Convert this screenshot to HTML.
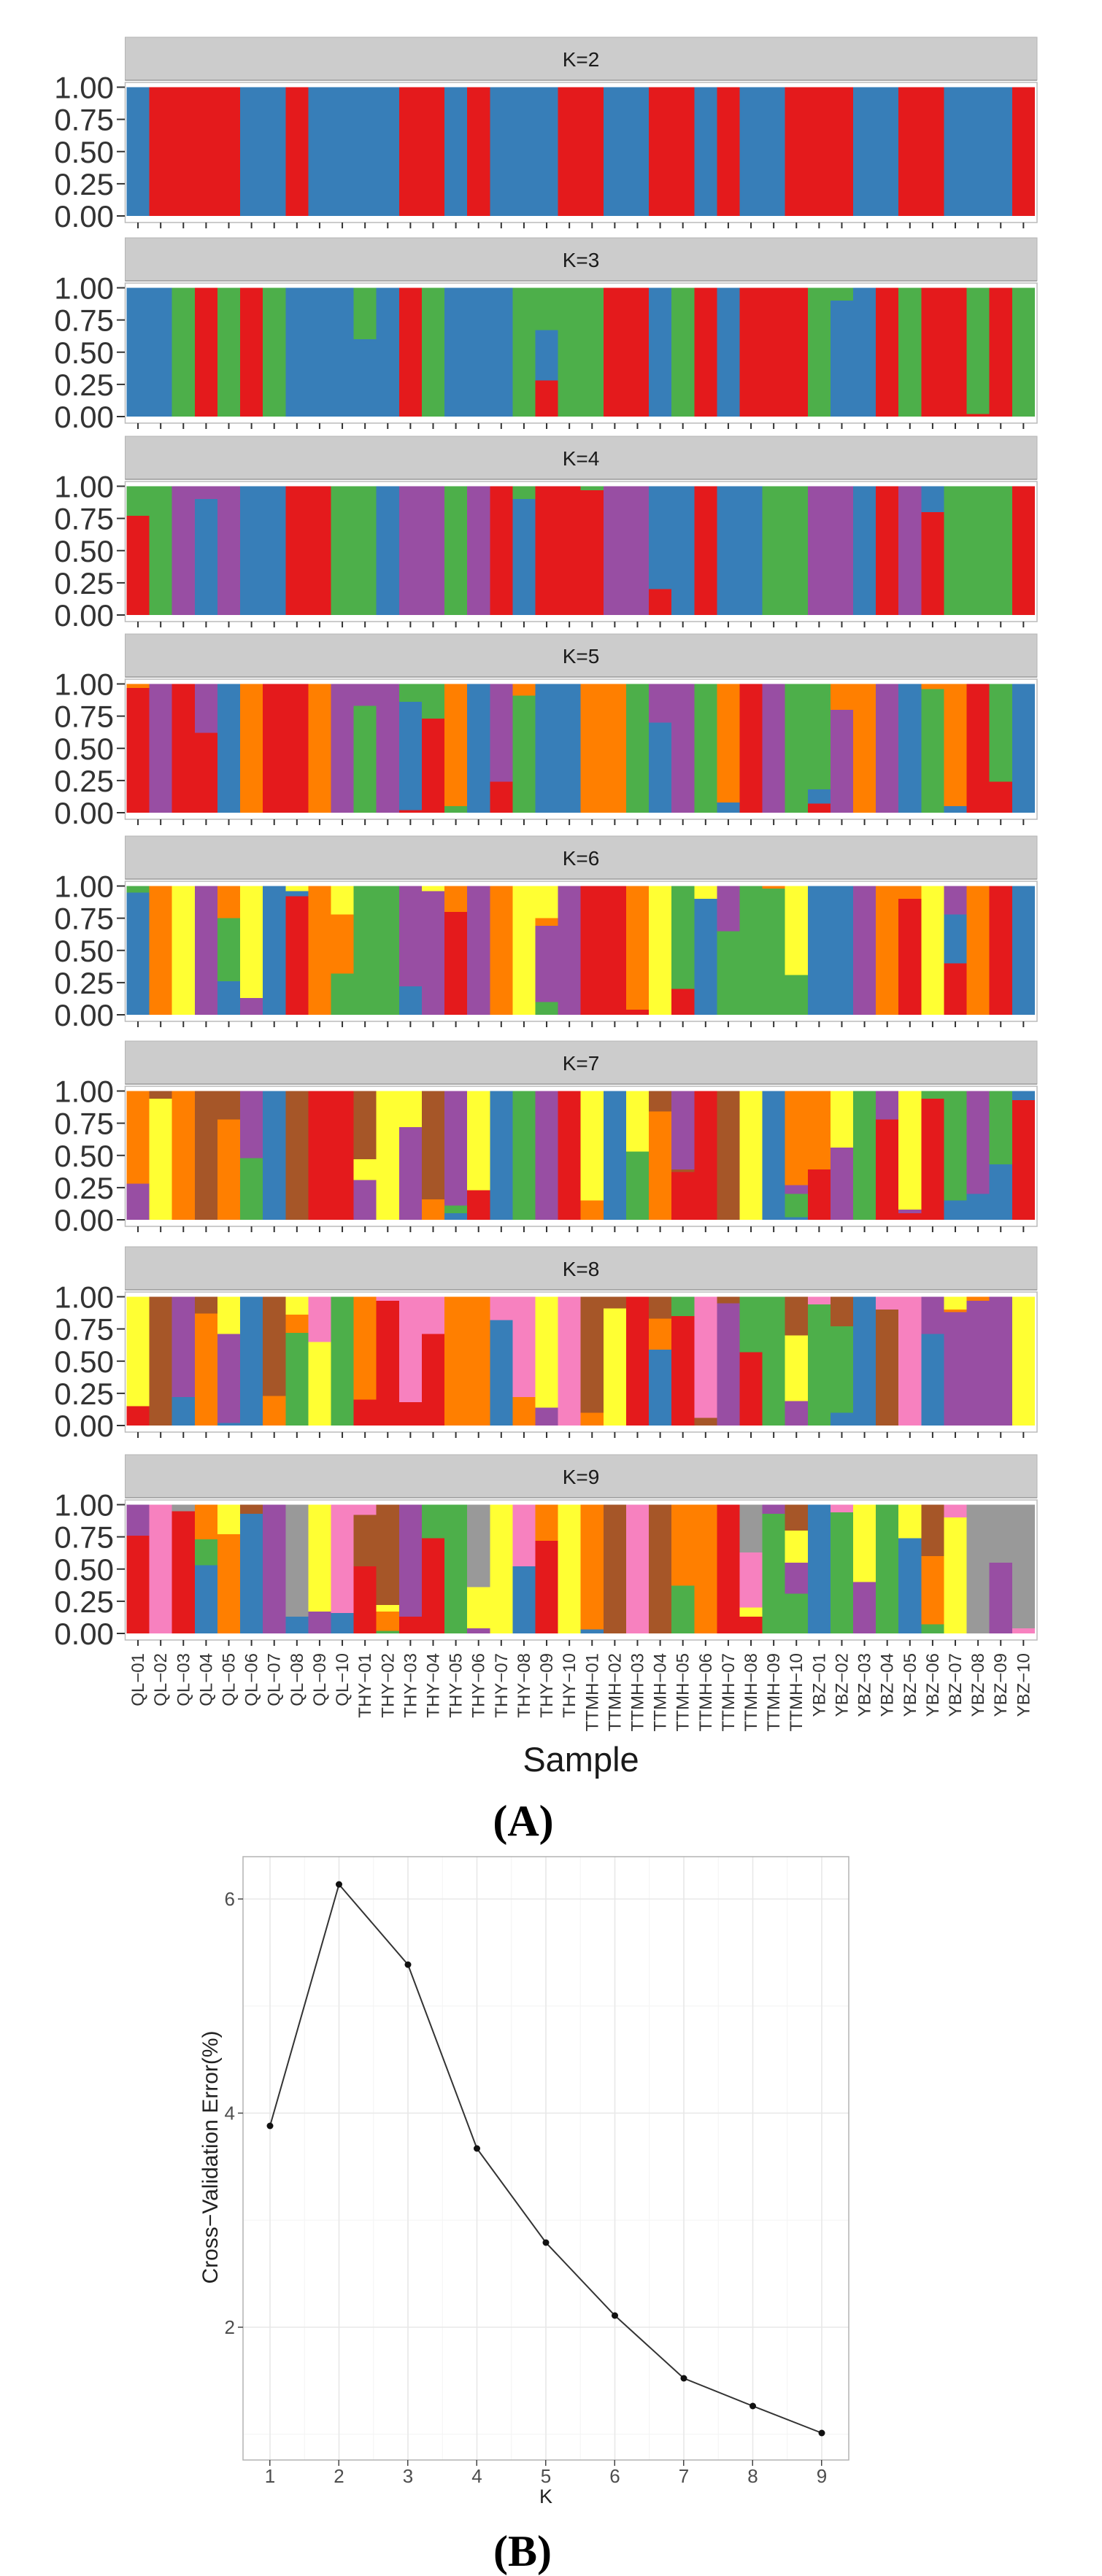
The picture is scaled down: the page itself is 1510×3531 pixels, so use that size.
<!DOCTYPE html>
<html><head><meta charset="utf-8"><style>
body{margin:0;background:#fff}
svg{display:block}
.r{fill:#E41A1C}.b{fill:#377EB8}.g{fill:#4DAF4A}.p{fill:#984EA3}.o{fill:#FF7F00}.y{fill:#FFFF33}.n{fill:#A65628}.k{fill:#F781BF}.a{fill:#999999}
.bars rect{shape-rendering:crispEdges}
.yl{font:42px "Liberation Sans",sans-serif;fill:#333;text-anchor:end}
.st{font:28px "Liberation Sans",sans-serif;fill:#1a1a1a;text-anchor:middle}
.xl{font:24px "Liberation Sans",sans-serif;fill:#333;text-anchor:end}
</style></head><body>
<svg width="1510" height="3531" viewBox="0 0 1510 3531" xmlns="http://www.w3.org/2000/svg">
<defs>
<g id="frame">
<rect x="171.5" y="0" width="1249.5" height="59" fill="#CCCCCC" stroke="#B5B5B5" stroke-width="1"/>
<line x1="171.5" y1="59" x2="1421" y2="59" stroke="#999" stroke-width="1.5"/>
<rect x="171.5" y="62" width="1249.5" height="192" fill="#fff" stroke="#BBBBBB" stroke-width="1.5"/>
<line x1="188.06" y1="258" x2="1420" y2="258" stroke="#333" stroke-width="8" stroke-dasharray="2 29.11"/>
</g>
<g id="yax">
<g stroke="#333" stroke-width="2"><line x1="160" x2="171" y1="0" y2="0"/><line x1="160" x2="171" y1="-44.1" y2="-44.1"/><line x1="160" x2="171" y1="-88.25" y2="-88.25"/><line x1="160" x2="171" y1="-132.4" y2="-132.4"/><line x1="160" x2="171" y1="-176.5" y2="-176.5"/></g>
<text class="yl" x="156" y="15">0.00</text><text class="yl" x="156" y="-29.1">0.25</text><text class="yl" x="156" y="-73.25">0.50</text><text class="yl" x="156" y="-117.4">0.75</text><text class="yl" x="156" y="-161.5">1.00</text>
</g>
</defs>

<!-- K=2 -->
<g transform="translate(0,51)"><use href="#frame"/><text class="st" x="796" y="40">K=2</text></g>
<g transform="translate(0,296)"><use href="#yax"/></g>
<g class="bars" transform="translate(173.5,296) scale(31.11,-176.5)">
<rect class="b" x="0" width="40" height="1"/>
<rect class="r" x="1" width="4" height="1"/><rect class="r" x="7" width="1" height="1"/><rect class="r" x="12" width="2" height="1"/><rect class="r" x="15" width="1" height="1"/><rect class="r" x="19" width="2" height="1"/><rect class="r" x="23" width="2" height="1"/><rect class="r" x="26" width="1" height="1"/><rect class="r" x="29" width="3" height="1"/><rect class="r" x="34" width="2" height="1"/><rect class="r" x="39" width="1" height="1"/>
</g>

<!-- K=3 -->
<g transform="translate(0,326)"><use href="#frame"/><text class="st" x="796" y="40">K=3</text></g>
<g transform="translate(0,571)"><use href="#yax"/></g>
<g class="bars" transform="translate(173.5,571) scale(31.11,-176.5)">
<rect class="g" x="0" width="40" height="1"/>
<rect class="b" x="0" width="2" height="1"/><rect class="r" x="3" width="1" height="1"/><rect class="r" x="5" width="1" height="1"/><rect class="b" x="7" width="3" height="1"/><rect class="b" x="10" width="1" height=".6"/><rect class="b" x="11" width="1" height="1"/><rect class="r" x="12" width="1" height="1"/><rect class="b" x="14" width="3" height="1"/><rect class="b" x="18" width="1" height=".67"/><rect class="r" x="18" width="1" height=".28"/><rect class="r" x="21" width="2" height="1"/><rect class="b" x="23" width="1" height="1"/><rect class="r" x="25" width="1" height="1"/><rect class="b" x="26" width="1" height="1"/><rect class="r" x="27" width="3" height="1"/><rect class="b" x="31" width="1" height=".9"/><rect class="b" x="32" width="1" height="1"/><rect class="r" x="33" width="1" height="1"/><rect class="r" x="35" width="2" height="1"/><rect class="r" x="37" width="1" height=".02"/><rect class="r" x="38" width="1" height="1"/>
</g>

<!-- K=4 -->
<g transform="translate(0,598)"><use href="#frame"/><text class="st" x="796" y="40">K=4</text></g>
<g transform="translate(0,843)"><use href="#yax"/></g>
<g class="bars" transform="translate(173.5,843) scale(31.11,-176.5)">
<rect class="g" x="0" width="40" height="1"/>
<rect class="r" x="0" width="1" height=".77"/><rect class="p" x="2" width="3" height="1"/><rect class="b" x="3" width="1" height=".9"/><rect class="b" x="5" width="2" height="1"/><rect class="r" x="7" width="2" height="1"/><rect class="b" x="11" width="1" height="1"/><rect class="p" x="12" width="2" height="1"/><rect class="p" x="15" width="1" height="1"/><rect class="r" x="16" width="1" height="1"/><rect class="b" x="17" width="1" height=".9"/><rect class="r" x="18" width="2" height="1"/><rect class="r" x="20" width="1" height=".97"/><rect class="p" x="21" width="2" height="1"/><rect class="b" x="23" width="1" height="1"/><rect class="r" x="23" width="1" height=".2"/><rect class="b" x="24" width="1" height="1"/><rect class="r" x="25" width="1" height="1"/><rect class="b" x="26" width="2" height="1"/><rect class="p" x="30" width="2" height="1"/><rect class="b" x="32" width="1" height="1"/><rect class="r" x="33" width="1" height="1"/><rect class="p" x="34" width="1" height="1"/><rect class="b" x="35" width="1" height="1"/><rect class="r" x="35" width="1" height=".8"/><rect class="r" x="39" width="1" height="1"/>
</g>

<!-- K=5 -->
<g transform="translate(0,869)"><use href="#frame"/><text class="st" x="796" y="40">K=5</text></g>
<g transform="translate(0,1114)"><use href="#yax"/></g>
<g class="bars" transform="translate(173.5,1114) scale(31.11,-176.5)">
<rect class="o" x="0" width="1.02" height="1"/><rect class="r" x="0" width="1.02" height=".97"/>
<rect class="p" x="1" width="1.02" height="1"/>
<rect class="r" x="2" width="1.02" height="1"/>
<rect class="p" x="3" width="1.02" height="1"/><rect class="r" x="3" width="1.02" height=".62"/>
<rect class="b" x="4" width="1.02" height="1"/>
<rect class="o" x="5" width="1.02" height="1"/>
<rect class="r" x="6" width="2.02" height="1"/>
<rect class="o" x="8" width="1.02" height="1"/>
<rect class="p" x="9" width="1.02" height="1"/>
<rect class="p" x="10" width="1.02" height="1"/><rect class="g" x="10" width="1.02" height=".83"/>
<rect class="p" x="11" width="1.02" height="1"/>
<rect class="g" x="12" width="1.02" height="1"/><rect class="b" x="12" width="1.02" height=".86"/><rect class="r" x="12" width="1.02" height=".02"/>
<rect class="g" x="13" width="1.02" height="1"/><rect class="r" x="13" width="1.02" height=".73"/>
<rect class="o" x="14" width="1.02" height="1"/><rect class="g" x="14" width="1.02" height=".05"/>
<rect class="b" x="15" width="1.02" height="1"/>
<rect class="p" x="16" width="1.02" height="1"/><rect class="r" x="16" width="1.02" height=".24"/>
<rect class="o" x="17" width="1.02" height="1"/><rect class="g" x="17" width="1.02" height=".91"/>
<rect class="b" x="18" width="2.02" height="1"/>
<rect class="o" x="20" width="2.02" height="1"/>
<rect class="g" x="22" width="1.02" height="1"/>
<rect class="p" x="23" width="1.02" height="1"/><rect class="b" x="23" width="1.02" height=".7"/>
<rect class="p" x="24" width="1.02" height="1"/>
<rect class="g" x="25" width="1.02" height="1"/>
<rect class="o" x="26" width="1.02" height="1"/><rect class="b" x="26" width="1.02" height=".08"/>
<rect class="r" x="27" width="1.02" height="1"/>
<rect class="p" x="28" width="1.02" height="1"/>
<rect class="g" x="29" width="1.02" height="1"/>
<rect class="g" x="30" width="1.02" height="1"/><rect class="b" x="30" width="1.02" height=".18"/><rect class="r" x="30" width="1.02" height=".07"/>
<rect class="o" x="31" width="1.02" height="1"/><rect class="p" x="31" width="1.02" height=".8"/>
<rect class="o" x="32" width="1.02" height="1"/>
<rect class="p" x="33" width="1.02" height="1"/>
<rect class="b" x="34" width="1.02" height="1"/>
<rect class="o" x="35" width="1.02" height="1"/><rect class="g" x="35" width="1.02" height=".96"/>
<rect class="o" x="36" width="1.02" height="1"/><rect class="b" x="36" width="1.02" height=".05"/>
<rect class="r" x="37" width="1.02" height="1"/>
<rect class="g" x="38" width="1.02" height="1"/><rect class="r" x="38" width="1.02" height=".24"/>
<rect class="b" x="39" width="1" height="1"/>
</g>

<!-- K=6 -->
<g transform="translate(0,1146)"><use href="#frame"/><text class="st" x="796" y="40">K=6</text></g>
<g transform="translate(0,1391)"><use href="#yax"/></g>
<g class="bars" transform="translate(173.5,1391) scale(31.11,-176.5)">
<rect class="g" x="0" width="1.02" height="1"/><rect class="b" x="0" width="1.02" height=".95"/>
<rect class="o" x="1" width="1.02" height="1"/>
<rect class="y" x="2" width="1.02" height="1"/>
<rect class="p" x="3" width="1.02" height="1"/>
<rect class="o" x="4" width="1.02" height="1"/><rect class="g" x="4" width="1.02" height=".75"/><rect class="b" x="4" width="1.02" height=".26"/>
<rect class="y" x="5" width="1.02" height="1"/><rect class="p" x="5" width="1.02" height=".13"/>
<rect class="b" x="6" width="1.02" height="1"/>
<rect class="y" x="7" width="1.02" height="1"/><rect class="b" x="7" width="1.02" height=".96"/><rect class="r" x="7" width="1.02" height=".92"/>
<rect class="o" x="8" width="1.02" height="1"/>
<rect class="y" x="9" width="1.02" height="1"/><rect class="o" x="9" width="1.02" height=".78"/><rect class="g" x="9" width="1.02" height=".32"/>
<rect class="g" x="10" width="2.02" height="1"/>
<rect class="p" x="12" width="1.02" height="1"/><rect class="b" x="12" width="1.02" height=".22"/>
<rect class="y" x="13" width="1.02" height="1"/><rect class="p" x="13" width="1.02" height=".96"/>
<rect class="o" x="14" width="1.02" height="1"/><rect class="r" x="14" width="1.02" height=".8"/>
<rect class="p" x="15" width="1.02" height="1"/>
<rect class="o" x="16" width="1.02" height="1"/>
<rect class="y" x="17" width="1.02" height="1"/>
<rect class="y" x="18" width="1.02" height="1"/><rect class="o" x="18" width="1.02" height=".75"/><rect class="p" x="18" width="1.02" height=".69"/><rect class="g" x="18" width="1.02" height=".1"/>
<rect class="p" x="19" width="1.02" height="1"/>
<rect class="r" x="20" width="2.02" height="1"/>
<rect class="o" x="22" width="1.02" height="1"/><rect class="r" x="22" width="1.02" height=".04"/>
<rect class="y" x="23" width="1.02" height="1"/>
<rect class="g" x="24" width="1.02" height="1"/><rect class="r" x="24" width="1.02" height=".2"/>
<rect class="y" x="25" width="1.02" height="1"/><rect class="b" x="25" width="1.02" height=".9"/>
<rect class="p" x="26" width="1.02" height="1"/><rect class="g" x="26" width="1.02" height=".65"/>
<rect class="g" x="27" width="1.02" height="1"/>
<rect class="o" x="28" width="1.02" height="1"/><rect class="g" x="28" width="1.02" height=".98"/>
<rect class="y" x="29" width="1.02" height="1"/><rect class="g" x="29" width="1.02" height=".31"/>
<rect class="b" x="30" width="2.02" height="1"/>
<rect class="p" x="32" width="1.02" height="1"/>
<rect class="o" x="33" width="1.02" height="1"/>
<rect class="o" x="34" width="1.02" height="1"/><rect class="r" x="34" width="1.02" height=".9"/>
<rect class="y" x="35" width="1.02" height="1"/>
<rect class="p" x="36" width="1.02" height="1"/><rect class="b" x="36" width="1.02" height=".78"/><rect class="r" x="36" width="1.02" height=".4"/>
<rect class="o" x="37" width="1.02" height="1"/>
<rect class="r" x="38" width="1.02" height="1"/>
<rect class="b" x="39" width="1" height="1"/>
</g>

<!-- K=7 -->
<g transform="translate(0,1427)"><use href="#frame"/><text class="st" x="796" y="40">K=7</text></g>
<g transform="translate(0,1672)"><use href="#yax"/></g>
<g class="bars" transform="translate(173.5,1672) scale(31.11,-176.5)">
<rect class="o" x="0" width="1.02" height="1"/><rect class="p" x="0" width="1.02" height=".28"/>
<rect class="n" x="1" width="1.02" height="1"/><rect class="y" x="1" width="1.02" height=".94"/>
<rect class="o" x="2" width="1.02" height="1"/>
<rect class="n" x="3" width="1.02" height="1"/>
<rect class="n" x="4" width="1.02" height="1"/><rect class="o" x="4" width="1.02" height=".78"/>
<rect class="p" x="5" width="1.02" height="1"/><rect class="g" x="5" width="1.02" height=".48"/>
<rect class="b" x="6" width="1.02" height="1"/>
<rect class="n" x="7" width="1.02" height="1"/>
<rect class="r" x="8" width="2.02" height="1"/>
<rect class="n" x="10" width="1.02" height="1"/><rect class="y" x="10" width="1.02" height=".47"/><rect class="p" x="10" width="1.02" height=".31"/>
<rect class="y" x="11" width="1.02" height="1"/>
<rect class="y" x="12" width="1.02" height="1"/><rect class="p" x="12" width="1.02" height=".72"/>
<rect class="n" x="13" width="1.02" height="1"/><rect class="o" x="13" width="1.02" height=".16"/>
<rect class="p" x="14" width="1.02" height="1"/><rect class="g" x="14" width="1.02" height=".11"/><rect class="b" x="14" width="1.02" height=".05"/>
<rect class="y" x="15" width="1.02" height="1"/><rect class="r" x="15" width="1.02" height=".23"/>
<rect class="b" x="16" width="1.02" height="1"/>
<rect class="g" x="17" width="1.02" height="1"/>
<rect class="p" x="18" width="1.02" height="1"/>
<rect class="r" x="19" width="1.02" height="1"/>
<rect class="y" x="20" width="1.02" height="1"/><rect class="o" x="20" width="1.02" height=".15"/>
<rect class="b" x="21" width="1.02" height="1"/>
<rect class="y" x="22" width="1.02" height="1"/><rect class="g" x="22" width="1.02" height=".53"/>
<rect class="n" x="23" width="1.02" height="1"/><rect class="o" x="23" width="1.02" height=".84"/>
<rect class="p" x="24" width="1.02" height="1"/><rect class="n" x="24" width="1.02" height=".39"/><rect class="r" x="24" width="1.02" height=".37"/>
<rect class="r" x="25" width="1.02" height="1"/>
<rect class="n" x="26" width="1.02" height="1"/>
<rect class="y" x="27" width="1.02" height="1"/>
<rect class="b" x="28" width="1.02" height="1"/>
<rect class="o" x="29" width="1.02" height="1"/><rect class="p" x="29" width="1.02" height=".27"/><rect class="g" x="29" width="1.02" height=".2"/><rect class="b" x="29" width="1.02" height=".02"/>
<rect class="o" x="30" width="1.02" height="1"/><rect class="r" x="30" width="1.02" height=".39"/>
<rect class="y" x="31" width="1.02" height="1"/><rect class="p" x="31" width="1.02" height=".56"/>
<rect class="g" x="32" width="1.02" height="1"/>
<rect class="p" x="33" width="1.02" height="1"/><rect class="r" x="33" width="1.02" height=".78"/>
<rect class="y" x="34" width="1.02" height="1"/><rect class="p" x="34" width="1.02" height=".08"/><rect class="r" x="34" width="1.02" height=".05"/>
<rect class="g" x="35" width="1.02" height="1"/><rect class="r" x="35" width="1.02" height=".94"/>
<rect class="g" x="36" width="1.02" height="1"/><rect class="b" x="36" width="1.02" height=".15"/>
<rect class="p" x="37" width="1.02" height="1"/><rect class="b" x="37" width="1.02" height=".2"/>
<rect class="g" x="38" width="1.02" height="1"/><rect class="b" x="38" width="1.02" height=".43"/>
<rect class="b" x="39" width="1" height="1"/><rect class="r" x="39" width="1" height=".93"/>
</g>

<!-- K=8 -->
<g transform="translate(0,1709)"><use href="#frame"/><text class="st" x="796" y="40">K=8</text></g>
<g transform="translate(0,1954)"><use href="#yax"/></g>
<g class="bars" transform="translate(173.5,1954) scale(31.11,-176.5)">
<rect class="y" x="0" width="1.02" height="1"/><rect class="r" x="0" width="1.02" height=".15"/>
<rect class="n" x="1" width="1.02" height="1"/>
<rect class="p" x="2" width="1.02" height="1"/><rect class="b" x="2" width="1.02" height=".22"/>
<rect class="n" x="3" width="1.02" height="1"/><rect class="o" x="3" width="1.02" height=".87"/>
<rect class="y" x="4" width="1.02" height="1"/><rect class="p" x="4" width="1.02" height=".71"/><rect class="b" x="4" width="1.02" height=".02"/>
<rect class="b" x="5" width="1.02" height="1"/>
<rect class="n" x="6" width="1.02" height="1"/><rect class="o" x="6" width="1.02" height=".23"/>
<rect class="y" x="7" width="1.02" height="1"/><rect class="o" x="7" width="1.02" height=".86"/><rect class="g" x="7" width="1.02" height=".72"/>
<rect class="k" x="8" width="1.02" height="1"/><rect class="y" x="8" width="1.02" height=".65"/>
<rect class="g" x="9" width="1.02" height="1"/>
<rect class="o" x="10" width="1.02" height="1"/><rect class="r" x="10" width="1.02" height=".2"/>
<rect class="k" x="11" width="1.02" height="1"/><rect class="r" x="11" width="1.02" height=".97"/>
<rect class="k" x="12" width="1.02" height="1"/><rect class="r" x="12" width="1.02" height=".18"/>
<rect class="k" x="13" width="1.02" height="1"/><rect class="r" x="13" width="1.02" height=".71"/>
<rect class="o" x="14" width="2.02" height="1"/>
<rect class="k" x="16" width="1.02" height="1"/><rect class="b" x="16" width="1.02" height=".82"/>
<rect class="k" x="17" width="1.02" height="1"/><rect class="o" x="17" width="1.02" height=".22"/>
<rect class="y" x="18" width="1.02" height="1"/><rect class="p" x="18" width="1.02" height=".14"/>
<rect class="k" x="19" width="1.02" height="1"/>
<rect class="n" x="20" width="1.02" height="1"/><rect class="o" x="20" width="1.02" height=".1"/>
<rect class="n" x="21" width="1.02" height="1"/><rect class="y" x="21" width="1.02" height=".91"/>
<rect class="r" x="22" width="1.02" height="1"/>
<rect class="n" x="23" width="1.02" height="1"/><rect class="o" x="23" width="1.02" height=".83"/><rect class="b" x="23" width="1.02" height=".59"/>
<rect class="g" x="24" width="1.02" height="1"/><rect class="r" x="24" width="1.02" height=".85"/>
<rect class="k" x="25" width="1.02" height="1"/><rect class="n" x="25" width="1.02" height=".06"/>
<rect class="n" x="26" width="1.02" height="1"/><rect class="p" x="26" width="1.02" height=".95"/>
<rect class="g" x="27" width="1.02" height="1"/><rect class="r" x="27" width="1.02" height=".57"/>
<rect class="g" x="28" width="1.02" height="1"/>
<rect class="n" x="29" width="1.02" height="1"/><rect class="y" x="29" width="1.02" height=".7"/><rect class="p" x="29" width="1.02" height=".19"/>
<rect class="k" x="30" width="1.02" height="1"/><rect class="g" x="30" width="1.02" height=".94"/>
<rect class="n" x="31" width="1.02" height="1"/><rect class="g" x="31" width="1.02" height=".77"/><rect class="b" x="31" width="1.02" height=".1"/>
<rect class="b" x="32" width="1.02" height="1"/>
<rect class="k" x="33" width="1.02" height="1"/><rect class="n" x="33" width="1.02" height=".9"/>
<rect class="k" x="34" width="1.02" height="1"/>
<rect class="p" x="35" width="1.02" height="1"/><rect class="b" x="35" width="1.02" height=".71"/>
<rect class="y" x="36" width="1.02" height="1"/><rect class="o" x="36" width="1.02" height=".9"/><rect class="p" x="36" width="1.02" height=".88"/>
<rect class="o" x="37" width="1.02" height="1"/><rect class="p" x="37" width="1.02" height=".97"/>
<rect class="p" x="38" width="1.02" height="1"/>
<rect class="y" x="39" width="1" height="1"/>
</g>

<!-- K=9 -->
<g transform="translate(0,1994)"><use href="#frame"/><text class="st" x="796" y="40">K=9</text></g>
<g transform="translate(0,2239)"><use href="#yax"/></g>
<g class="bars" transform="translate(173.5,2239) scale(31.11,-176.5)">
<rect class="p" x="0" width="1.02" height="1"/><rect class="r" x="0" width="1.02" height=".76"/>
<rect class="k" x="1" width="1.02" height="1"/>
<rect class="a" x="2" width="1.02" height="1"/><rect class="r" x="2" width="1.02" height=".95"/>
<rect class="o" x="3" width="1.02" height="1"/><rect class="g" x="3" width="1.02" height=".73"/><rect class="b" x="3" width="1.02" height=".53"/>
<rect class="y" x="4" width="1.02" height="1"/><rect class="o" x="4" width="1.02" height=".77"/>
<rect class="n" x="5" width="1.02" height="1"/><rect class="b" x="5" width="1.02" height=".93"/>
<rect class="p" x="6" width="1.02" height="1"/>
<rect class="a" x="7" width="1.02" height="1"/><rect class="b" x="7" width="1.02" height=".13"/>
<rect class="y" x="8" width="1.02" height="1"/><rect class="p" x="8" width="1.02" height=".17"/>
<rect class="k" x="9" width="1.02" height="1"/><rect class="b" x="9" width="1.02" height=".16"/>
<rect class="k" x="10" width="1.02" height="1"/><rect class="n" x="10" width="1.02" height=".92"/><rect class="r" x="10" width="1.02" height=".52"/>
<rect class="n" x="11" width="1.02" height="1"/><rect class="y" x="11" width="1.02" height=".22"/><rect class="o" x="11" width="1.02" height=".17"/><rect class="g" x="11" width="1.02" height=".02"/>
<rect class="p" x="12" width="1.02" height="1"/><rect class="r" x="12" width="1.02" height=".13"/>
<rect class="g" x="13" width="1.02" height="1"/><rect class="r" x="13" width="1.02" height=".74"/>
<rect class="g" x="14" width="1.02" height="1"/>
<rect class="a" x="15" width="1.02" height="1"/><rect class="y" x="15" width="1.02" height=".36"/><rect class="p" x="15" width="1.02" height=".04"/>
<rect class="y" x="16" width="1.02" height="1"/>
<rect class="k" x="17" width="1.02" height="1"/><rect class="b" x="17" width="1.02" height=".52"/>
<rect class="o" x="18" width="1.02" height="1"/><rect class="r" x="18" width="1.02" height=".72"/>
<rect class="y" x="19" width="1.02" height="1"/>
<rect class="o" x="20" width="1.02" height="1"/><rect class="b" x="20" width="1.02" height=".03"/>
<rect class="n" x="21" width="1.02" height="1"/>
<rect class="k" x="22" width="1.02" height="1"/>
<rect class="n" x="23" width="1.02" height="1"/>
<rect class="o" x="24" width="1.02" height="1"/><rect class="g" x="24" width="1.02" height=".37"/>
<rect class="o" x="25" width="1.02" height="1"/>
<rect class="r" x="26" width="1.02" height="1"/>
<rect class="a" x="27" width="1.02" height="1"/><rect class="k" x="27" width="1.02" height=".63"/><rect class="y" x="27" width="1.02" height=".2"/><rect class="r" x="27" width="1.02" height=".13"/>
<rect class="p" x="28" width="1.02" height="1"/><rect class="g" x="28" width="1.02" height=".93"/>
<rect class="n" x="29" width="1.02" height="1"/><rect class="y" x="29" width="1.02" height=".8"/><rect class="p" x="29" width="1.02" height=".55"/><rect class="g" x="29" width="1.02" height=".31"/>
<rect class="b" x="30" width="1.02" height="1"/>
<rect class="k" x="31" width="1.02" height="1"/><rect class="g" x="31" width="1.02" height=".94"/>
<rect class="y" x="32" width="1.02" height="1"/><rect class="p" x="32" width="1.02" height=".4"/>
<rect class="g" x="33" width="1.02" height="1"/>
<rect class="y" x="34" width="1.02" height="1"/><rect class="b" x="34" width="1.02" height=".74"/>
<rect class="n" x="35" width="1.02" height="1"/><rect class="o" x="35" width="1.02" height=".6"/><rect class="g" x="35" width="1.02" height=".07"/>
<rect class="k" x="36" width="1.02" height="1"/><rect class="y" x="36" width="1.02" height=".9"/>
<rect class="a" x="37" width="1.02" height="1"/>
<rect class="a" x="38" width="1.02" height="1"/><rect class="p" x="38" width="1.02" height=".55"/>
<rect class="a" x="39" width="1" height="1"/><rect class="k" x="39" width="1" height=".04"/>
</g>

<!-- x labels -->
<g class="xl">
<text transform="translate(197.1,2266) rotate(-90)">QL−01</text>
<text transform="translate(228.2,2266) rotate(-90)">QL−02</text>
<text transform="translate(259.3,2266) rotate(-90)">QL−03</text>
<text transform="translate(290.4,2266) rotate(-90)">QL−04</text>
<text transform="translate(321.5,2266) rotate(-90)">QL−05</text>
<text transform="translate(352.6,2266) rotate(-90)">QL−06</text>
<text transform="translate(383.7,2266) rotate(-90)">QL−07</text>
<text transform="translate(414.8,2266) rotate(-90)">QL−08</text>
<text transform="translate(446.0,2266) rotate(-90)">QL−09</text>
<text transform="translate(477.1,2266) rotate(-90)">QL−10</text>
<text transform="translate(508.2,2266) rotate(-90)">THY−01</text>
<text transform="translate(539.3,2266) rotate(-90)">THY−02</text>
<text transform="translate(570.4,2266) rotate(-90)">THY−03</text>
<text transform="translate(601.5,2266) rotate(-90)">THY−04</text>
<text transform="translate(632.6,2266) rotate(-90)">THY−05</text>
<text transform="translate(663.7,2266) rotate(-90)">THY−06</text>
<text transform="translate(694.8,2266) rotate(-90)">THY−07</text>
<text transform="translate(725.9,2266) rotate(-90)">THY−08</text>
<text transform="translate(757.0,2266) rotate(-90)">THY−09</text>
<text transform="translate(788.2,2266) rotate(-90)">THY−10</text>
<text transform="translate(819.3,2266) rotate(-90)">TTMH−01</text>
<text transform="translate(850.4,2266) rotate(-90)">TTMH−02</text>
<text transform="translate(881.5,2266) rotate(-90)">TTMH−03</text>
<text transform="translate(912.6,2266) rotate(-90)">TTMH−04</text>
<text transform="translate(943.7,2266) rotate(-90)">TTMH−05</text>
<text transform="translate(974.8,2266) rotate(-90)">TTMH−06</text>
<text transform="translate(1005.9,2266) rotate(-90)">TTMH−07</text>
<text transform="translate(1037.0,2266) rotate(-90)">TTMH−08</text>
<text transform="translate(1068.1,2266) rotate(-90)">TTMH−09</text>
<text transform="translate(1099.2,2266) rotate(-90)">TTMH−10</text>
<text transform="translate(1130.4,2266) rotate(-90)">YBZ−01</text>
<text transform="translate(1161.5,2266) rotate(-90)">YBZ−02</text>
<text transform="translate(1192.6,2266) rotate(-90)">YBZ−03</text>
<text transform="translate(1223.7,2266) rotate(-90)">YBZ−04</text>
<text transform="translate(1254.8,2266) rotate(-90)">YBZ−05</text>
<text transform="translate(1285.9,2266) rotate(-90)">YBZ−06</text>
<text transform="translate(1317.0,2266) rotate(-90)">YBZ−07</text>
<text transform="translate(1348.1,2266) rotate(-90)">YBZ−08</text>
<text transform="translate(1379.2,2266) rotate(-90)">YBZ−09</text>
<text transform="translate(1410.3,2266) rotate(-90)">YBZ−10</text>
</g>
<text x="796" y="2428" font-family="Liberation Sans, sans-serif" font-size="47" fill="#1a1a1a" text-anchor="middle">Sample</text>
<text x="717" y="2516" font-family="Liberation Serif, serif" font-size="60" font-weight="bold" fill="#000" text-anchor="middle">(A)</text>

<!-- Chart B -->
<rect x="333" y="2545" width="830" height="827" fill="#fff"/>
<g stroke="#F4F4F4" stroke-width="1">
<line x1="333" x2="1163" y1="3336.75" y2="3336.75"/><line x1="333" x2="1163" y1="3043.25" y2="3043.25"/><line x1="333" x2="1163" y1="2749.75" y2="2749.75"/>
<line y1="2545" y2="3372" x1="417.25" x2="417.25"/><line y1="2545" y2="3372" x1="511.75" x2="511.75"/><line y1="2545" y2="3372" x1="606.25" x2="606.25"/><line y1="2545" y2="3372" x1="700.75" x2="700.75"/><line y1="2545" y2="3372" x1="795.25" x2="795.25"/><line y1="2545" y2="3372" x1="889.75" x2="889.75"/><line y1="2545" y2="3372" x1="984.25" x2="984.25"/><line y1="2545" y2="3372" x1="1078.75" x2="1078.75"/>
</g>
<g stroke="#E8E8E8" stroke-width="1.6">
<line x1="333" x2="1163" y1="3190" y2="3190"/><line x1="333" x2="1163" y1="2896.5" y2="2896.5"/><line x1="333" x2="1163" y1="2603" y2="2603"/>
<line y1="2545" y2="3372" x1="370" x2="370"/><line y1="2545" y2="3372" x1="464.5" x2="464.5"/><line y1="2545" y2="3372" x1="559" x2="559"/><line y1="2545" y2="3372" x1="653.5" x2="653.5"/><line y1="2545" y2="3372" x1="748" x2="748"/><line y1="2545" y2="3372" x1="842.5" x2="842.5"/><line y1="2545" y2="3372" x1="937" x2="937"/><line y1="2545" y2="3372" x1="1031.5" x2="1031.5"/><line y1="2545" y2="3372" x1="1126" x2="1126"/>
</g>
<rect x="333" y="2545" width="830" height="827" fill="none" stroke="#B3B3B3" stroke-width="1.5"/>
<polyline points="370,2914 464.5,2583 559,2693 653.5,2945 748,3074 842.5,3174 937,3260 1031.5,3298 1126,3335" fill="none" stroke="#333" stroke-width="2"/>
<g fill="#111">
<circle cx="370" cy="2914" r="4.5"/><circle cx="464.5" cy="2583" r="4.5"/><circle cx="559" cy="2693" r="4.5"/><circle cx="653.5" cy="2945" r="4.5"/><circle cx="748" cy="3074" r="4.5"/><circle cx="842.5" cy="3174" r="4.5"/><circle cx="937" cy="3260" r="4.5"/><circle cx="1031.5" cy="3298" r="4.5"/><circle cx="1126" cy="3335" r="4.5"/>
</g>
<g stroke="#444" stroke-width="1.5">
<line x1="326" x2="333" y1="3190" y2="3190"/><line x1="326" x2="333" y1="2896.5" y2="2896.5"/><line x1="326" x2="333" y1="2603" y2="2603"/>
</g>
<line x1="369" y1="3376" x2="1130" y2="3376" stroke="#444" stroke-width="8" stroke-dasharray="1.5 93" />
<g font-family="Liberation Sans, sans-serif" font-size="26" fill="#4D4D4D">
<text x="322" y="3199" text-anchor="end">2</text><text x="322" y="2905.5" text-anchor="end">4</text><text x="322" y="2612" text-anchor="end">6</text>
<g text-anchor="middle">
<text x="370" y="3403">1</text><text x="464.5" y="3403">2</text><text x="559" y="3403">3</text><text x="653.5" y="3403">4</text><text x="748" y="3403">5</text><text x="842.5" y="3403">6</text><text x="937" y="3403">7</text><text x="1031.5" y="3403">8</text><text x="1126" y="3403">9</text>
</g>
</g>
<text x="748" y="3431" font-family="Liberation Sans, sans-serif" font-size="27" fill="#222" text-anchor="middle">K</text>
<text transform="translate(298,2957) rotate(-90)" font-family="Liberation Sans, sans-serif" font-size="30" fill="#222" text-anchor="middle">Cross−Validation Error(%)</text>
<text x="716" y="3517" font-family="Liberation Serif, serif" font-size="60" font-weight="bold" fill="#000" text-anchor="middle">(B)</text>
</svg>
</body></html>
